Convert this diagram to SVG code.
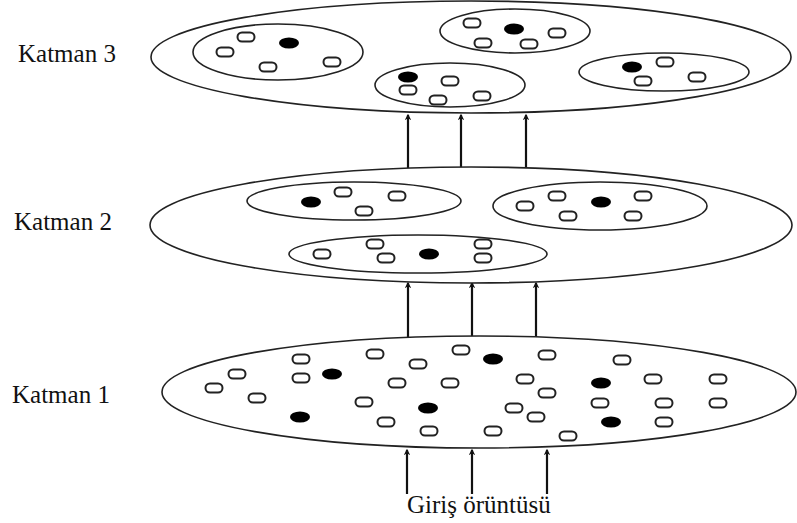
<svg xmlns="http://www.w3.org/2000/svg" width="797" height="523" viewBox="0 0 797 523">
  <style>
    .layer { fill: #fff; stroke: #222; stroke-width: 1.6; }
    .group { fill: none; stroke: #222; stroke-width: 1.6; }
    .label { font-family: "Liberation Serif", "Times New Roman", serif; font-size: 25px; fill: #111; }
    .conn { stroke: #111; stroke-width: 2.2; fill: none; marker-end: url(#head); }
  </style>
  <defs>
    <!-- inactive unit: small hollow capsule -->
    <rect id="u" x="-8.5" y="-4.5" width="17" height="9" rx="4.5" ry="4.5" fill="#fff" stroke="#222" stroke-width="2"/>
    <!-- winning unit: filled oval -->
    <ellipse id="w" cx="0" cy="0" rx="10" ry="5.5" fill="#000"/>
    <marker id="head" viewBox="0 0 10 10" refX="8" refY="5" markerWidth="3" markerHeight="3" orient="auto" markerUnits="strokeWidth">
      <path d="M0,0 L10,5 L0,10 L3,5 Z" fill="#111"/>
    </marker>
  </defs>

  <rect width="797" height="523" fill="#fff"/>

  <!-- connectors between layers -->
  <g id="connectors">
    <line class="conn" x1="408" y1="168" x2="408" y2="115"/>
    <line class="conn" x1="461" y1="168" x2="461" y2="115"/>
    <line class="conn" x1="526" y1="168" x2="526" y2="115"/>
    <line class="conn" x1="408" y1="337" x2="408" y2="283"/>
    <line class="conn" x1="472" y1="337" x2="472" y2="283"/>
    <line class="conn" x1="536" y1="337" x2="536" y2="283"/>
    <line class="conn" x1="407" y1="494" x2="407" y2="450"/>
    <line class="conn" x1="472" y1="494" x2="472" y2="450"/>
    <line class="conn" x1="547" y1="494" x2="547" y2="450"/>
  </g>

  <!-- layer 3 -->
  <g id="layer3">
    <ellipse class="layer" cx="471" cy="57" rx="320" ry="56"/>
    <g id="layer3-cluster1">
      <ellipse class="group" cx="278" cy="52" rx="85" ry="28"/>
      <use href="#u" x="246" y="37"/>
      <use href="#u" x="225" y="52"/>
      <use href="#u" x="268" y="67"/>
      <use href="#u" x="332" y="62"/>
      <use href="#w" x="289" y="43"/>
    </g>
    <g id="layer3-cluster2">
      <ellipse class="group" cx="515" cy="31" rx="75" ry="22"/>
      <use href="#u" x="472" y="23"/>
      <use href="#u" x="557" y="33"/>
      <use href="#u" x="483" y="43"/>
      <use href="#u" x="529" y="44"/>
      <use href="#w" x="514" y="29"/>
    </g>
    <g id="layer3-cluster3">
      <ellipse class="group" cx="664" cy="72" rx="85" ry="19"/>
      <use href="#u" x="665" y="62"/>
      <use href="#u" x="643" y="81"/>
      <use href="#u" x="697" y="77"/>
      <use href="#w" x="632" y="67"/>
    </g>
    <g id="layer3-cluster4">
      <ellipse class="group" cx="450" cy="85" rx="75" ry="22"/>
      <use href="#u" x="450" y="81"/>
      <use href="#u" x="408" y="90"/>
      <use href="#u" x="438" y="100"/>
      <use href="#u" x="482" y="96"/>
      <use href="#w" x="408" y="77"/>
    </g>
    <text class="label" x="18" y="62">Katman 3</text>
  </g>

  <!-- layer 2 -->
  <g id="layer2">
    <ellipse class="layer" cx="471" cy="225" rx="321" ry="58"/>
    <g id="layer2-cluster1">
      <ellipse class="group" cx="354" cy="201" rx="107" ry="19"/>
      <use href="#u" x="343" y="192"/>
      <use href="#u" x="397" y="196"/>
      <use href="#u" x="364" y="211"/>
      <use href="#w" x="311" y="202"/>
    </g>
    <g id="layer2-cluster2">
      <ellipse class="group" cx="600" cy="206" rx="107" ry="24"/>
      <use href="#u" x="525" y="206"/>
      <use href="#u" x="557" y="196"/>
      <use href="#u" x="643" y="196"/>
      <use href="#u" x="568" y="216"/>
      <use href="#u" x="633" y="216"/>
      <use href="#w" x="601" y="202"/>
    </g>
    <g id="layer2-cluster3">
      <ellipse class="group" cx="418" cy="254" rx="129" ry="19"/>
      <use href="#u" x="322" y="254"/>
      <use href="#u" x="375" y="244"/>
      <use href="#u" x="386" y="258"/>
      <use href="#u" x="483" y="244"/>
      <use href="#u" x="483" y="258"/>
      <use href="#w" x="429" y="254"/>
    </g>
    <text class="label" x="14" y="230">Katman 2</text>
  </g>

  <!-- layer 1 -->
  <g id="layer1">
    <ellipse class="layer" cx="479" cy="392" rx="317" ry="56"/>
    <g id="layer1-units">
      <use href="#u" x="301" y="359"/>
      <use href="#u" x="375" y="354"/>
      <use href="#u" x="418" y="364"/>
      <use href="#u" x="461" y="350"/>
      <use href="#u" x="237" y="374"/>
      <use href="#u" x="301" y="378"/>
      <use href="#u" x="397" y="383"/>
      <use href="#u" x="450" y="383"/>
      <use href="#u" x="214" y="388"/>
      <use href="#u" x="257" y="398"/>
      <use href="#u" x="364" y="402"/>
      <use href="#u" x="386" y="422"/>
      <use href="#u" x="429" y="431"/>
      <use href="#u" x="547" y="355"/>
      <use href="#u" x="622" y="360"/>
      <use href="#u" x="525" y="379"/>
      <use href="#u" x="653" y="379"/>
      <use href="#u" x="718" y="379"/>
      <use href="#u" x="547" y="393"/>
      <use href="#u" x="514" y="408"/>
      <use href="#u" x="600" y="403"/>
      <use href="#u" x="664" y="403"/>
      <use href="#u" x="718" y="403"/>
      <use href="#u" x="536" y="417"/>
      <use href="#u" x="664" y="422"/>
      <use href="#u" x="493" y="431"/>
      <use href="#u" x="568" y="436"/>
      <use href="#w" x="332" y="374"/>
      <use href="#w" x="428" y="408"/>
      <use href="#w" x="300" y="417"/>
      <use href="#w" x="493" y="359"/>
      <use href="#w" x="601" y="383"/>
      <use href="#w" x="611" y="422"/>
    </g>
    <text class="label" x="12" y="403">Katman 1</text>
  </g>

  <g id="input">
    <text class="label" x="407" y="513">Giriş örüntüsü</text>
  </g>
</svg>
